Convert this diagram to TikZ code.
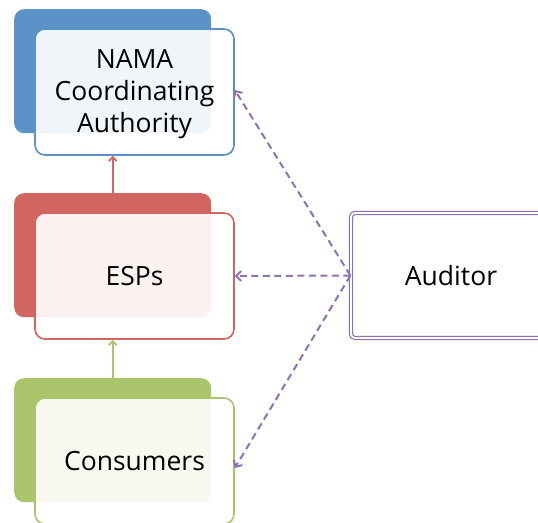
\documentclass[tikz,border=0pt]{standalone}
\usepackage{fontspec}
\setmainfont{Open Sans}
\usetikzlibrary{arrows.meta}
\definecolor{tierblue}{HTML}{5B93C9}
\definecolor{tierred}{HTML}{D0665F}
\definecolor{tiergreen}{HTML}{A9C46A}
\definecolor{auditpurple}{HTML}{8E72B4}
\begin{document}
\begin{tikzpicture}[x=1pt,y=-1pt,
  boxfont/.style={font=\fontsize{26.5}{32}\selectfont},
  backbox/.style={fill=#1, draw=none, rounded corners=10pt, minimum width=197pt,
    minimum height=124pt, anchor=north west, inner sep=0pt},
  frontbox/.style={draw=#1, line width=1.6pt, fill=white, fill opacity=0.91,
    text opacity=1, rounded corners=10pt, minimum width=199pt, minimum height=126pt,
    align=center, inner sep=0pt, boxfont},
  auditbox/.style={draw=auditpurple, double=white, double distance=1.8pt,
    line width=1.2pt, rounded corners=4pt, minimum width=200pt, minimum height=125pt,
    inner sep=0pt, boxfont},
  uparrow/.style={draw=#1, line width=1.8pt, -{Straight Barb[length=4pt,width=8pt]}},
  auditlink/.style={draw=auditpurple, line width=2pt, dash pattern=on 7pt off 4.5pt,
    -{Straight Barb[length=5pt,width=10pt]}}]
\useasboundingbox (0,0) rectangle (538,522);
\clip (0,0) rectangle (538,522);

% solid coloured tabs behind each tier
\node[backbox=tierblue]  (nama-back) at (14,9)   {};
\node[backbox=tierred]   (esps-back) at (14,193) {};
\node[backbox=tiergreen] (cons-back) at (14,378) {};

% framed tier boxes
\node[frontbox=tierblue]  (nama) at (134.5,92)  {};
\node[align=center, inner sep=0pt, boxfont] (nama-text) at (134.5,94.5)
  {NAMA\\Coordinating\\Authority};
\node[frontbox=tierred]   (esps) at (134.5,276) {ESPs};
\node[frontbox=tiergreen] (cons) at (134.5,461) {Consumers};

% auditor
\node[auditbox] (auditor) at (451,275.5) {Auditor};

% reporting chain
\draw[uparrow=tierred]   (esps-back.north) -- (esps-back.north |- nama.south);
\draw[uparrow=tiergreen] (cons-back.north) -- (cons-back.north |- esps.south);

% audit links
\draw[auditlink] (auditor.west) -- ([yshift=2pt]nama.east);
\draw[auditlink] (auditor.west) -- (esps.east);
\draw[auditlink] (auditor.west) -- ([yshift=-7pt]cons.east);
\end{tikzpicture}
\end{document}
